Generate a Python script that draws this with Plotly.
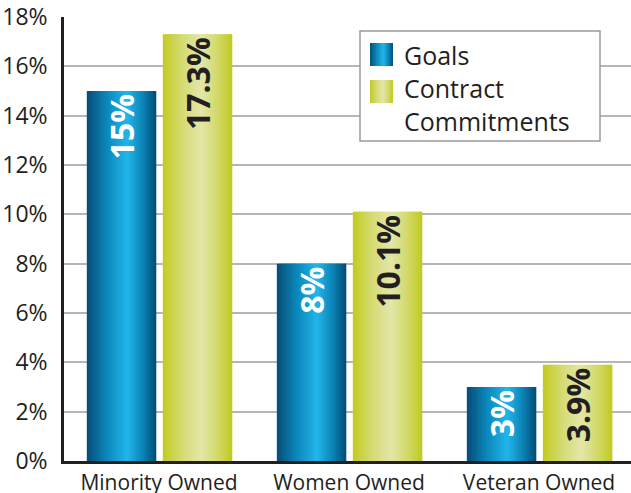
import plotly.graph_objects as go

# ---- data ----
categories = ["Minority Owned", "Women Owned", "Veteran Owned"]
goals = [15, 8, 3]
commitments = [17.3, 10.1, 3.9]
goals_labels = ["15%", "8%", "3%"]
commit_labels = ["17.3%", "10.1%", "3.9%"]
series_names = ["Goals", "Contract<br>Commitments"]
y_tickvals = [0, 2, 4, 6, 8, 10, 12, 14, 16, 18]
y_ticktext = ["0%", "2%", "4%", "6%", "8%", "10%", "12%", "14%", "16%", "18%"]

# ---- style ----
FONT = "Open Sans"
DARK = "#231f20"
BLUE_STOPS = [(0.0, "#084c77"), (0.28, "#0b86b9"), (0.58, "#22b6ea"), (0.82, "#0a80b2"), (1.0, "#024b73")]
GREEN_STOPS = [(0.0, "#c2cb20"), (0.3, "#d6dc78"), (0.55, "#e3e6a8"), (0.8, "#d2d866"), (1.0, "#c0ca1e")]
N_STRIPS = 28
BAR_W = 0.365
GOAL_START = -0.38
COMMIT_START = 0.02


def hex2rgb(h):
    h = h.lstrip("#")
    return tuple(int(h[i:i + 2], 16) for i in (0, 2, 4))


def interp(stops, t):
    for (t0, c0), (t1, c1) in zip(stops[:-1], stops[1:]):
        if t0 <= t <= t1:
            a = (t - t0) / (t1 - t0) if t1 > t0 else 0
            r0, g0, b0 = hex2rgb(c0)
            r1, g1, b1 = hex2rgb(c1)
            return "rgb(%d,%d,%d)" % (round(r0 + (r1 - r0) * a), round(g0 + (g1 - g0) * a), round(b0 + (b1 - b0) * a))
    return stops[-1][1]


fig = go.Figure()


def add_gradient_series(values, start, stops):
    sw = BAR_W / N_STRIPS
    for k in range(N_STRIPS):
        t = (k + 0.5) / N_STRIPS
        w = sw * 2 if k < N_STRIPS - 1 else sw
        fig.add_trace(go.Bar(
            x=categories, y=values, offset=start + k * sw, width=w,
            marker=dict(color=interp(stops, t), line=dict(width=0)),
            showlegend=False, hoverinfo="skip",
        ))


add_gradient_series(goals, GOAL_START, BLUE_STOPS)
add_gradient_series(commitments, COMMIT_START, GREEN_STOPS)

# text overlay traces
for vals, start, labels, col in [
    (goals, GOAL_START, goals_labels, "white"),
    (commitments, COMMIT_START, commit_labels, DARK),
]:
    fig.add_trace(go.Bar(
        x=categories, y=vals, offset=start, width=BAR_W,
        marker=dict(color="rgba(0,0,0,0)", line=dict(width=0)),
        text=labels, textposition="inside", textangle=-90, insidetextanchor="end",
        textfont=dict(family=FONT, size=32, color=col, weight="bold"),
        cliponaxis=False, showlegend=False, hoverinfo="skip",
    ))

# ---- manual legend (paper coords) ----
PX0, PX1, PY0, PY1 = 64, 631, 17, 461


def px(x):
    return (x - PX0) / (PX1 - PX0)


def py(y):
    return (PY1 - y) / (PY1 - PY0)


shapes = [dict(type="rect", xref="paper", yref="paper", x0=px(360), x1=px(600), y0=py(141), y1=py(31),
               fillcolor="white", line=dict(color="#9a9a9a", width=1.5), layer="above")]
for (y0, y1), stops in [((43, 66), BLUE_STOPS), ((80, 103), GREEN_STOPS)]:
    n = 12
    for k in range(n):
        xa = 370 + 23 * k / n
        xb = 370 + 23 * (k + 1) / n + (1.0 if k < n - 1 else 0)
        shapes.append(dict(type="rect", xref="paper", yref="paper", x0=px(xa), x1=px(xb),
                           y0=py(y1), y1=py(y0), fillcolor=interp(stops, (k + 0.5) / n),
                           line=dict(width=0), layer="above"))

annotations = [
    dict(xref="paper", yref="paper", x=px(402), y=py(55), text=series_names[0], showarrow=False,
         xanchor="left", yanchor="middle", font=dict(family=FONT, size=25, color=DARK)),
    dict(xref="paper", yref="paper", x=px(402), y=py(105), text=series_names[1], showarrow=False,
         xanchor="left", yanchor="middle", align="left", font=dict(family=FONT, size=25, color=DARK)),
]

fig.update_layout(
    width=631, height=493,
    margin=dict(l=PX0, r=0, t=PY0, b=493 - PY1, autoexpand=False),
    paper_bgcolor="white", plot_bgcolor="white",
    barmode="overlay",
    showlegend=False,
    hovermode=False,
    shapes=shapes,
    annotations=annotations,
    font=dict(family=FONT, color=DARK),
    xaxis=dict(
        range=[-0.5, 2.484], showgrid=False, showline=True, linecolor=DARK, linewidth=3,
        tickfont=dict(family=FONT, size=21, color=DARK), ticks="", ticklabelstandoff=1,
        fixedrange=True, automargin=False,
    ),
    yaxis=dict(
        range=[0, 18], tickvals=y_tickvals, ticktext=y_ticktext,
        showgrid=True, gridcolor="#b5b5b5", gridwidth=1.5,
        showline=True, linecolor=DARK, linewidth=2.5, zeroline=False,
        tickfont=dict(family=FONT, size=23, color=DARK), ticks="", ticklabelstandoff=9,
        fixedrange=True, automargin=False,
    ),
)

fig.write_html(
    "out.html",
    config={"displayModeBar": False},
    post_script="document.body.style.margin='0px';document.body.style.overflow='hidden';",
)
